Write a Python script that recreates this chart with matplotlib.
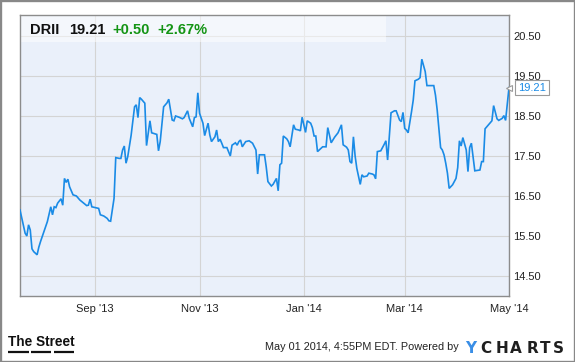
import matplotlib
matplotlib.use("Agg")
import matplotlib.pyplot as plt
import pandas as pd
from matplotlib import font_manager
from matplotlib.patches import Rectangle
from matplotlib.lines import Line2D
from matplotlib.transforms import blended_transform_factory

# ---------------- data ----------------
dates = [
    "2013-07-19", "2013-07-22", "2013-07-23", "2013-07-24", "2013-07-25", "2013-07-26",
    "2013-07-27", "2013-07-29", "2013-07-30", "2013-07-31", "2013-08-02", "2013-08-04",
    "2013-08-06", "2013-08-07", "2013-08-08", "2013-08-09", "2013-08-10", "2013-08-12",
    "2013-08-13", "2013-08-14", "2013-08-15", "2013-08-16", "2013-08-17", "2013-08-19",
    "2013-08-21", "2013-08-23", "2013-08-27", "2013-08-28", "2013-08-29", "2013-08-30",
    "2013-09-01", "2013-09-03", "2013-09-04", "2013-09-06", "2013-09-08", "2013-09-09",
    "2013-09-10", "2013-09-12", "2013-09-13", "2013-09-15", "2013-09-16", "2013-09-17",
    "2013-09-18", "2013-09-19", "2013-09-20", "2013-09-22", "2013-09-24", "2013-09-25",
    "2013-09-26", "2013-09-27", "2013-09-28", "2013-09-30", "2013-10-01", "2013-10-03",
    "2013-10-04", "2013-10-07", "2013-10-08", "2013-10-09", "2013-10-11", "2013-10-13",
    "2013-10-14", "2013-10-16", "2013-10-17", "2013-10-18", "2013-10-20", "2013-10-22",
    "2013-10-23", "2013-10-25", "2013-10-26", "2013-10-28", "2013-10-29", "2013-10-30",
    "2013-10-31", "2013-11-01", "2013-11-03", "2013-11-04", "2013-11-06", "2013-11-07",
    "2013-11-08", "2013-11-10", "2013-11-11", "2013-11-12", "2013-11-13", "2013-11-14",
    "2013-11-15", "2013-11-17", "2013-11-19", "2013-11-20", "2013-11-22", "2013-11-23",
    "2013-11-24", "2013-11-25", "2013-11-26", "2013-11-28", "2013-11-30", "2013-12-02",
    "2013-12-04", "2013-12-05", "2013-12-06", "2013-12-09", "2013-12-10", "2013-12-11",
    "2013-12-13", "2013-12-14", "2013-12-16", "2013-12-17", "2013-12-18", "2013-12-19",
    "2013-12-20", "2013-12-22", "2013-12-23", "2013-12-24", "2013-12-26", "2013-12-27",
    "2013-12-29", "2013-12-30", "2013-12-31", "2014-01-02", "2014-01-03", "2014-01-05",
    "2014-01-06", "2014-01-07", "2014-01-08", "2014-01-09", "2014-01-11", "2014-01-12",
    "2014-01-14", "2014-01-15", "2014-01-17", "2014-01-19", "2014-01-21", "2014-01-23",
    "2014-01-24", "2014-01-26", "2014-01-27", "2014-01-28", "2014-01-29", "2014-01-30",
    "2014-01-31", "2014-02-01", "2014-02-03", "2014-02-04", "2014-02-05", "2014-02-07",
    "2014-02-08", "2014-02-10", "2014-02-11", "2014-02-12", "2014-02-13", "2014-02-15",
    "2014-02-17", "2014-02-18", "2014-02-19", "2014-02-21", "2014-02-23", "2014-02-24",
    "2014-02-26", "2014-02-27", "2014-02-28", "2014-03-01", "2014-03-02", "2014-03-03",
    "2014-03-05", "2014-03-06", "2014-03-07", "2014-03-09", "2014-03-10", "2014-03-11",
    "2014-03-13", "2014-03-14", "2014-03-18", "2014-03-19", "2014-03-20", "2014-03-22",
    "2014-03-23", "2014-03-24", "2014-03-25", "2014-03-26", "2014-03-27", "2014-03-29",
    "2014-03-31", "2014-04-01", "2014-04-02", "2014-04-03", "2014-04-04", "2014-04-06",
    "2014-04-07", "2014-04-08", "2014-04-09", "2014-04-11", "2014-04-14", "2014-04-15",
    "2014-04-16", "2014-04-17", "2014-04-19", "2014-04-21", "2014-04-22", "2014-04-24",
    "2014-04-25", "2014-04-27", "2014-04-28", "2014-04-29", "2014-05-01",
]
prices = [
    16.15, 15.57, 15.50, 15.78, 15.65, 15.18,
    15.11, 15.03, 15.22, 15.36, 15.61, 15.86,
    16.23, 16.03, 16.23, 16.21, 16.32, 16.43,
    16.27, 16.94, 16.84, 16.92, 16.73, 16.53,
    16.50, 16.40, 16.26, 16.27, 16.42, 16.23,
    16.21, 16.19, 16.03, 16.00, 15.94, 15.88,
    15.87, 16.44, 17.46, 17.44, 17.44, 17.65,
    17.75, 17.32, 17.48, 18.02, 18.73, 18.78,
    18.46, 18.96, 18.92, 18.82, 17.76, 18.38,
    18.08, 18.04, 17.63, 17.86, 18.73, 18.83,
    18.92, 18.40, 18.38, 18.50, 18.47, 18.43,
    18.46, 18.63, 18.44, 18.23, 18.46, 18.48,
    19.08, 18.57, 18.32, 18.01, 18.32, 18.03,
    17.86, 17.98, 18.15, 17.86, 17.92, 17.82,
    17.71, 17.71, 17.50, 17.77, 17.83, 17.77,
    17.86, 17.90, 17.73, 17.86, 17.88, 17.82,
    17.65, 17.05, 17.53, 17.53, 17.23, 16.86,
    16.75, 16.79, 16.94, 16.63, 17.28, 17.32,
    18.00, 17.93, 17.86, 17.73, 18.28, 18.17,
    18.15, 18.13, 18.47, 18.09, 18.38, 18.32,
    18.21, 18.00, 18.00, 17.61, 17.69, 17.73,
    17.73, 18.21, 17.83, 17.97, 18.08, 18.28,
    17.78, 17.72, 17.65, 17.36, 17.32, 17.98,
    17.50, 17.19, 16.79, 17.03, 16.98, 17.00,
    17.07, 17.05, 17.03, 16.93, 17.61, 17.63,
    17.79, 17.88, 17.40, 18.58, 18.63, 18.63,
    18.40, 18.36, 18.59, 18.19, 18.15, 18.08,
    18.61, 18.90, 19.38, 19.42, 19.46, 19.92,
    19.61, 19.26, 19.26, 19.02, 18.65, 17.71,
    17.65, 17.53, 17.32, 17.07, 16.69, 16.78,
    16.94, 17.21, 17.88, 17.75, 17.96, 17.65,
    17.11, 17.71, 17.82, 17.13, 17.15, 17.36,
    17.36, 18.18, 18.28, 18.38, 18.76, 18.43,
    18.39, 18.44, 18.51, 18.39, 19.21,
]

x_tick_dates = ["2013-09-01", "2013-11-01", "2014-01-01", "2014-03-01", "2014-05-01"]
x_tick_labels = ["Sep '13", "Nov '13", "Jan '14", "Mar '14", "May '14"]
y_ticks = [14.5, 15.5, 16.5, 17.5, 18.5, 19.5, 20.5]

ticker = "DRII"
last_price = "19.21"
change = "+0.50"
change_pct = "+2.67%"
footer_text = "May 01 2014, 4:55PM EDT. Powered by"
x_start, x_end = "2013-07-19", "2014-05-01"
y_min, y_max = 14.0, 21.025

# ---------------- style ----------------
names = {f.name for f in font_manager.fontManager.ttflist}
SANS = "Liberation Sans" if "Liberation Sans" in names else "DejaVu Sans"

LINE = "#1a8be6"
BG = "#eaf0fa"
GRID = "#d4d4d4"
SPINE = "#8c8c8c"
GREEN = "#149414"
TXT = "#222222"

W, H = 575, 362
fig = plt.figure(figsize=(W / 100, H / 100), dpi=100)
fig.patch.set_facecolor("white")

def fx(px):
    return px / W

def fy(py):
    return 1 - py / H

AX_L, AX_R, AX_T, AX_B = 20, 509, 15, 296
ax = fig.add_axes([fx(AX_L), fy(AX_B), (AX_R - AX_L) / W, (AX_B - AX_T) / H])
ax.set_facecolor(BG)

d = pd.to_datetime(dates)
ax.plot(d, prices, color=LINE, lw=1.2, zorder=3, solid_joinstyle="miter")

ax.set_xlim(pd.Timestamp(x_start), pd.Timestamp(x_end))
ax.set_ylim(y_min, y_max)

ax.set_xticks(pd.to_datetime(x_tick_dates))
ax.set_xticklabels(x_tick_labels)
ax.set_yticks(y_ticks)
ax.set_yticklabels([f"{v:.2f}" for v in y_ticks])
ax.yaxis.tick_right()
ax.tick_params(axis="both", length=0, labelsize=8, labelcolor=TXT)
ax.tick_params(axis="x", pad=6)
ax.tick_params(axis="y", pad=3)
for lab in ax.get_xticklabels() + ax.get_yticklabels():
    lab.set_fontfamily(SANS)

ax.grid(True, color=GRID, lw=0.8, zorder=1)
ax.set_axisbelow(True)
for s in ax.spines.values():
    s.set_color(SPINE)
    s.set_linewidth(1.0)

# header translucent box (top strip of the plot area)
box_h = (42 - AX_T) / (AX_B - AX_T)
box_w = (386 - AX_L) / (AX_R - AX_L)
ax.add_patch(Rectangle((0, 1 - box_h), box_w, box_h, transform=ax.transAxes,
                       facecolor="white", alpha=0.5, edgecolor="none", zorder=2))

# header texts
hdr_y = fy(34)
for px, s, c in [(30, ticker, "#111111"), (69, last_price, "#111111"),
                 (112, change, GREEN), (157, change_pct, GREEN)]:
    fig.text(fx(px), hdr_y, s, fontsize=10.5, fontweight="bold", color=c,
             family=SANS, va="baseline", ha="left")

# last value tag
trans = blended_transform_factory(ax.transAxes, ax.transData)
ax.annotate(f"{prices[-1]:.2f}", xy=(1, prices[-1]), xycoords=trans,
            xytext=(6.6, 0), textcoords="offset points", ha="left", va="center",
            fontsize=8, color=LINE, family=SANS, annotation_clip=False, zorder=10,
            bbox=dict(boxstyle="square,pad=0.25", fc="white", ec="#9a9a9a", lw=0.8))
ax.plot([1.0], [prices[-1]], marker="<", ms=5, mfc="white", mec="#9a9a9a", mew=0.8,
        transform=trans, clip_on=False, zorder=11, linestyle="none")

# footer: The Street logo
fig.text(fx(8), fy(346), "The Street", fontsize=9.8, fontweight="bold", color="#111111",
         family=SANS, va="baseline", ha="left")
for x0, x1 in [(8, 29), (31, 51), (54, 74)]:
    fig.add_artist(Line2D([fx(x0), fx(x1)], [fy(352), fy(352)], color="#111111", lw=1.6,
                          solid_capstyle="butt", transform=fig.transFigure))

# footer right
fig.text(fx(459), fy(347), footer_text, fontsize=7.8, color=TXT, family=SANS,
         va="center", ha="right")
logo = "YCHARTS"
centers = [471, 486, 502, 516, 532, 545, 558]
for ch, cx in zip(logo, centers):
    fig.text(fx(cx), fy(353), ch, fontsize=11, fontweight="bold",
             color="#3a8ee6" if ch == "Y" else "#1f1f1f",
             family="DejaVu Sans", va="baseline", ha="center")

# outer frame
fig.add_artist(Rectangle((0, 0), 1, 1, transform=fig.transFigure, fill=False,
                         edgecolor="#888888", lw=2.4))

fig.savefig("out.png", dpi=100, facecolor="white")
